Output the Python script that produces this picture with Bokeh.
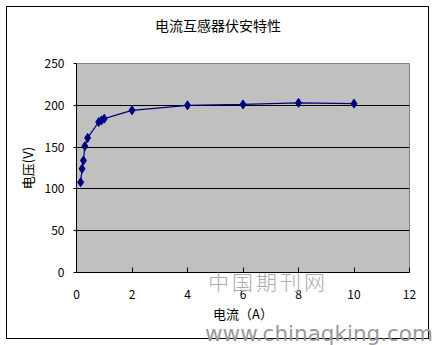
from bokeh.plotting import figure
from bokeh.models import Range1d, FixedTicker, Div
from bokeh.layouts import column
from bokeh.embed import file_html
from bokeh.resources import INLINE

title = "电流互感器伏安特性"
x_label = "电流（A）"
y_label = "电压(V)"
watermark_cn = "中国期刊网"
watermark_url = "www.chinaqking.com"
current = [0.15, 0.2, 0.25, 0.3, 0.4, 0.8, 0.9, 1.0, 2.0, 4.0, 6.0, 8.0, 10.0]
voltage = [108, 124, 134, 151, 161, 180, 182, 184, 194, 200, 201, 203, 202]
x_ticks = [0, 2, 4, 6, 8, 10, 12]
y_ticks = [0, 50, 100, 150, 200, 250]

FONT = "Noto Sans CJK SC"

p = figure(width=421, height=331, output_backend="svg", toolbar_location=None,
           x_range=Range1d(0, 12), y_range=Range1d(0, 250),
           min_border_left=69, min_border_right=21, min_border_top=56, min_border_bottom=68,
           background_fill_color="#C0C0C0", border_fill_color="white",
           outline_line_color="#808080", outline_line_width=1,
           margin=(6, 0, 0, 6),
           styles={"border": "1px solid black", "box-sizing": "content-box"})
p.frame_width = 331
p.frame_height = 207

for ax, ticks in ((p.xaxis[0], x_ticks), (p.yaxis[0], y_ticks)):
    ax.ticker = FixedTicker(ticks=ticks)
    ax.minor_tick_line_color = None
    ax.axis_line_color = "black"
    ax.major_tick_line_color = "black"
    ax.major_label_text_font = FONT
    ax.major_label_text_font_size = "12px"
    ax.major_label_text_color = "black"
    ax.axis_label_text_font = FONT
    ax.axis_label_text_font_size = "13px"
    ax.axis_label_text_font_style = "normal"
    ax.axis_label_text_color = "black"

p.xaxis.major_tick_in = 5
p.xaxis.major_tick_out = 0
p.yaxis.major_tick_in = 0
p.yaxis.major_tick_out = 3
p.xaxis.major_label_standoff = 17
p.yaxis.major_label_standoff = 9
p.xaxis.axis_label = x_label
p.yaxis.axis_label = y_label
p.xaxis.axis_label_standoff = 2
p.yaxis.axis_label_standoff = 5

p.xgrid.grid_line_color = None
p.ygrid.grid_line_color = "black"
p.ygrid.grid_line_width = 1

p.line(current, voltage, line_color="#000080", line_width=1.2)
p.scatter(current, voltage, marker="diamond", size=9, fill_color="#000080", line_color="#000080")

overlay = Div(text=(
    f'<div style="position:absolute;left:0px;top:15px;width:436px;text-align:center;'
    f'font-family:\'Noto Sans CJK SC\',sans-serif;font-size:14px;line-height:20px;color:#000;'
    f'white-space:nowrap;">{title}</div>'
    f'<div style="position:absolute;left:208px;top:266px;font-family:\'Noto Sans CJK SC\',serif;'
    f'font-weight:300;font-size:21px;color:#ababab;letter-spacing:3px;white-space:nowrap;">{watermark_cn}</div>'
    f'<div style="position:absolute;left:205px;top:319px;font-family:\'DejaVu Sans\',sans-serif;'
    f'font-size:21.5px;color:#999999;white-space:nowrap;">{watermark_url}</div>'),
    width=0, height=0, margin=0,
    styles={"position": "absolute", "left": "0px", "top": "0px", "overflow": "visible"})

layout = column(p, overlay, margin=0, styles={"position": "relative"})

open("out.html", "w").write(file_html(layout, INLINE))
